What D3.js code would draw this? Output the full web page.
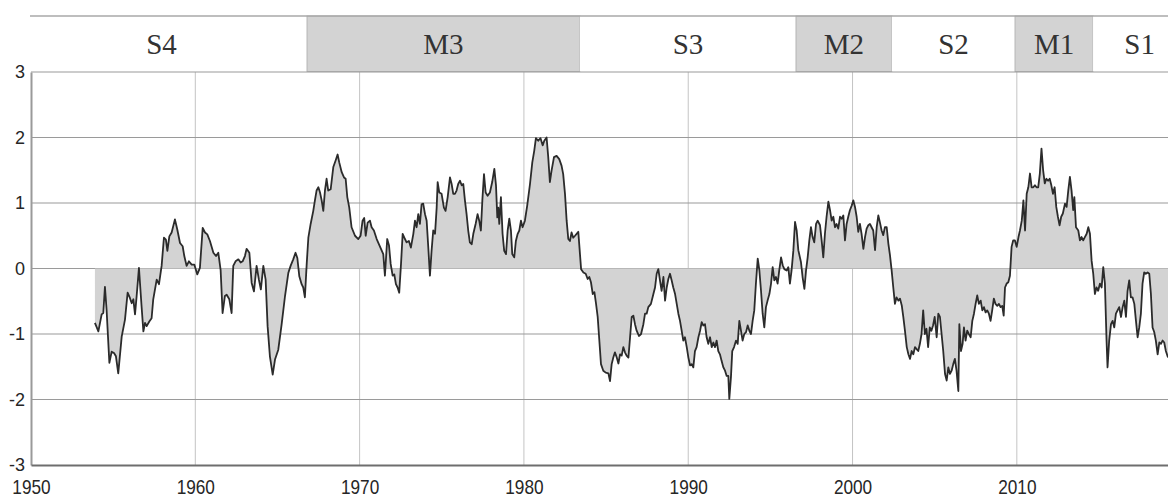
<!DOCTYPE html>
<html>
<head>
<meta charset="utf-8">
<script src="https://cdn.jsdelivr.net/npm/d3@7/dist/d3.min.js"></script>
<style>
  html, body { margin: 0; padding: 0; background: #fff; }
  svg { display: block; }
</style>
</head>
<body>
<svg id="chart" width="1168" height="497"></svg>
<script>
// Monthly index, sampled at its turning points (decimal year, value)
const years = [
  1953.89,1954.10,1954.30,1954.40,1954.50,1954.60,1954.77,1954.91,1955.05,1955.17,1955.31,1955.52,1955.72,1955.88,1956.02,1956.13,1956.23,1956.33,1956.43,1956.57,1956.73,1956.84,1956.94,1957.04,1957.20,1957.34,1957.44,1957.65,1957.79,1957.95,
  1958.09,1958.21,1958.30,1958.42,1958.56,1958.76,1958.90,1959.07,1959.23,1959.33,1959.47,1959.61,1959.78,1959.94,1960.12,1960.28,1960.45,1960.59,1960.73,1960.89,1961.10,1961.26,1961.40,1961.54,1961.66,1961.80,1961.91,1962.07,1962.21,1962.31,
  1962.45,1962.62,1962.76,1962.88,1963.02,1963.12,1963.29,1963.43,1963.57,1963.73,1963.87,1963.99,1964.14,1964.28,1964.40,1964.54,1964.71,1964.85,1965.05,1965.25,1965.46,1965.66,1965.80,1965.96,1966.10,1966.21,1966.33,1966.47,1966.57,1966.67,
  1966.78,1966.88,1967.02,1967.18,1967.28,1967.38,1967.49,1967.59,1967.69,1967.79,1967.89,1967.99,1968.09,1968.24,1968.40,1968.54,1968.66,1968.76,1968.91,1969.05,1969.15,1969.25,1969.37,1969.51,1969.72,1969.92,1970.06,1970.18,1970.28,1970.37,
  1970.49,1970.63,1970.73,1970.87,1971.04,1971.18,1971.30,1971.44,1971.54,1971.68,1971.79,1971.89,1972.01,1972.11,1972.21,1972.31,1972.41,1972.52,1972.62,1972.76,1972.86,1973.00,1973.12,1973.27,1973.37,1973.47,1973.57,1973.67,1973.77,1973.87,
  1973.98,1974.08,1974.18,1974.28,1974.38,1974.48,1974.59,1974.69,1974.75,1974.85,1974.99,1975.13,1975.23,1975.36,1975.50,1975.60,1975.70,1975.80,1975.90,1976.00,1976.11,1976.21,1976.31,1976.41,1976.51,1976.61,1976.71,1976.82,1976.92,1977.06,
  1977.18,1977.28,1977.38,1977.47,1977.57,1977.67,1977.79,1977.93,1978.07,1978.20,1978.30,1978.38,1978.44,1978.50,1978.60,1978.70,1978.80,1978.91,1979.01,1979.11,1979.21,1979.29,1979.41,1979.51,1979.62,1979.72,1979.82,1979.92,1980.06,1980.20,
  1980.37,1980.51,1980.63,1980.73,1980.87,1981.01,1981.14,1981.24,1981.38,1981.48,1981.58,1981.68,1981.83,1981.99,1982.15,1982.29,1982.39,1982.50,1982.60,1982.70,1982.80,1982.90,1983.00,1983.11,1983.31,1983.48,1983.62,1983.76,1983.88,1983.98,
  1984.08,1984.19,1984.29,1984.39,1984.49,1984.59,1984.69,1984.83,1984.98,1985.14,1985.24,1985.34,1985.44,1985.54,1985.65,1985.75,1985.85,1985.95,1986.05,1986.15,1986.25,1986.36,1986.46,1986.56,1986.66,1986.76,1986.86,1987.00,1987.13,1987.27,
  1987.37,1987.47,1987.57,1987.73,1987.88,1987.98,1988.08,1988.18,1988.28,1988.38,1988.49,1988.59,1988.69,1988.79,1988.89,1988.99,1989.09,1989.20,1989.30,1989.40,1989.50,1989.60,1989.70,1989.80,1989.91,1990.01,1990.11,1990.21,1990.31,1990.41,
  1990.51,1990.62,1990.72,1990.82,1990.92,1991.02,1991.12,1991.22,1991.33,1991.43,1991.53,1991.63,1991.73,1991.83,1991.93,1992.03,1992.14,1992.24,1992.34,1992.44,1992.50,1992.60,1992.68,1992.79,1992.91,1993.01,1993.11,1993.21,1993.31,1993.41,
  1993.52,1993.62,1993.72,1993.82,1993.92,1994.02,1994.12,1994.23,1994.33,1994.43,1994.53,1994.63,1994.73,1994.83,1994.94,1995.04,1995.14,1995.24,1995.34,1995.44,1995.54,1995.65,1995.75,1995.85,1995.99,1996.09,1996.19,1996.29,1996.40,1996.50,
  1996.60,1996.70,1996.86,1996.96,1997.07,1997.17,1997.27,1997.37,1997.47,1997.57,1997.67,1997.78,1997.88,1998.02,1998.12,1998.22,1998.32,1998.42,1998.53,1998.63,1998.73,1998.83,1998.93,1999.03,1999.13,1999.24,1999.34,1999.44,1999.54,1999.64,
  1999.74,1999.84,1999.95,2000.05,2000.15,2000.25,2000.35,2000.45,2000.55,2000.66,2000.76,2000.86,2000.96,2001.06,2001.16,2001.26,2001.37,2001.47,2001.57,2001.67,2001.77,2001.87,2001.97,2002.08,2002.18,2002.28,2002.38,2002.48,2002.58,2002.68,
  2002.79,2002.89,2003.00,2003.09,2003.19,2003.30,2003.40,2003.50,2003.60,2003.70,2003.80,2003.90,2004.00,2004.10,2004.20,2004.30,2004.40,2004.50,2004.60,2004.70,2004.80,2004.90,2005.00,2005.12,2005.22,2005.32,2005.42,2005.52,2005.63,2005.73,
  2005.83,2005.93,2006.03,2006.13,2006.23,2006.33,2006.44,2006.50,2006.60,2006.70,2006.78,2006.88,2006.98,2007.08,2007.19,2007.29,2007.39,2007.49,2007.59,2007.69,2007.80,2007.90,2008.00,2008.10,2008.20,2008.30,2008.40,2008.50,2008.60,2008.70,
  2008.81,2008.91,2009.01,2009.11,2009.20,2009.28,2009.38,2009.48,2009.58,2009.68,2009.78,2009.88,2009.99,2010.10,2010.19,2010.30,2010.40,2010.50,2010.60,2010.70,2010.80,2010.90,2011.00,2011.10,2011.20,2011.30,2011.40,2011.50,2011.60,2011.70,
  2011.80,2011.90,2012.00,2012.10,2012.20,2012.30,2012.40,2012.50,2012.60,2012.70,2012.80,2012.93,2013.03,2013.13,2013.23,2013.33,2013.43,2013.50,2013.60,2013.74,2013.84,2013.94,2014.04,2014.14,2014.25,2014.35,2014.45,2014.55,2014.65,2014.75,
  2014.85,2014.95,2015.06,2015.16,2015.26,2015.36,2015.46,2015.52,2015.62,2015.73,2015.83,2015.93,2016.03,2016.13,2016.23,2016.34,2016.44,2016.54,2016.64,2016.74,2016.84,2016.94,2017.04,2017.15,2017.25,2017.35,2017.45,2017.55,2017.65,2017.75,
  2017.85,2017.96,2018.06,2018.16,2018.26,2018.36,2018.46,2018.57,2018.67,2018.77,2018.87,2018.97,2019.07,2019.20
];
const values = [
  -0.83,-0.96,-0.70,-0.68,-0.28,-0.63,-1.44,-1.27,-1.29,-1.34,-1.60,-1.04,-0.78,-0.37,-0.45,-0.53,-0.47,-0.70,-0.42,0.01,-0.58,-0.96,-0.83,-0.88,-0.81,-0.76,-0.47,-0.17,-0.24,0.04,
  0.47,0.44,0.27,0.49,0.55,0.75,0.60,0.39,0.34,0.19,0.04,0.11,0.06,0.06,-0.09,0.01,0.62,0.55,0.52,0.42,0.24,0.19,0.24,-0.02,-0.68,-0.42,-0.40,-0.47,-0.68,0.04,
  0.11,0.14,0.09,0.11,0.19,0.30,0.24,-0.22,-0.35,0.04,-0.17,-0.32,0.04,-0.17,-0.88,-1.34,-1.62,-1.39,-1.24,-0.86,-0.42,-0.07,0.04,0.14,0.24,0.16,-0.12,-0.24,-0.29,-0.44,
  0.07,0.47,0.68,0.88,1.04,1.19,1.24,1.16,1.04,0.88,1.19,1.37,1.19,1.21,1.55,1.65,1.74,1.62,1.47,1.39,1.37,1.09,0.93,0.63,0.50,0.45,0.50,0.73,0.77,0.50,
  0.70,0.73,0.63,0.58,0.45,0.37,0.30,0.22,-0.11,0.45,0.35,0.07,-0.11,-0.09,-0.24,-0.29,-0.37,0.07,0.53,0.45,0.40,0.42,0.32,0.53,0.73,0.63,0.83,0.68,0.98,0.99,
  0.83,0.73,0.32,-0.11,0.27,0.58,0.53,0.93,1.32,1.16,1.14,0.93,0.88,1.09,1.39,1.29,1.14,1.14,1.19,1.29,1.34,1.27,1.29,1.04,0.83,0.58,0.40,0.37,0.53,0.68,
  0.83,0.73,0.58,1.04,1.44,1.16,1.11,1.16,1.32,1.52,1.27,0.78,0.93,0.68,1.09,0.53,0.27,0.22,0.58,0.76,0.58,0.22,0.17,0.42,0.53,0.58,0.73,0.63,0.73,0.96,
  1.29,1.62,1.80,1.99,1.95,1.99,1.88,1.95,2.00,1.70,1.32,1.49,1.70,1.72,1.67,1.57,1.44,1.14,0.73,0.45,0.42,0.55,0.47,0.50,0.56,-0.01,-0.06,-0.08,-0.16,-0.13,
  -0.21,-0.39,-0.36,-0.54,-0.74,-1.10,-1.46,-1.56,-1.59,-1.60,-1.72,-1.46,-1.36,-1.28,-1.36,-1.45,-1.31,-1.33,-1.20,-1.28,-1.33,-1.36,-1.05,-0.74,-0.72,-0.85,-0.95,-1.03,-1.00,-0.85,
  -0.69,-0.69,-0.59,-0.54,-0.39,-0.29,-0.08,-0.01,-0.18,-0.34,-0.13,-0.49,-0.29,-0.16,-0.08,-0.18,-0.29,-0.39,-0.54,-0.69,-0.80,-0.95,-1.10,-1.05,-1.20,-1.36,-1.48,-1.46,-1.51,-1.26,
  -1.20,-1.05,-0.95,-0.82,-0.87,-0.85,-1.05,-1.15,-1.05,-1.20,-1.13,-1.20,-1.10,-1.26,-1.31,-1.41,-1.51,-1.56,-1.64,-1.64,-1.99,-1.66,-1.26,-1.20,-1.10,-1.15,-0.80,-0.95,-1.10,-1.00,
  -0.97,-0.87,-0.95,-1.00,-0.80,-0.64,-0.23,0.15,-0.03,-0.34,-0.69,-0.90,-0.59,-0.49,-0.39,-0.23,0.02,-0.18,-0.13,-0.23,-0.03,0.17,0.05,-0.01,-0.03,0.02,-0.23,-0.03,0.28,0.71,
  0.58,0.28,0.10,-0.13,-0.31,-0.03,0.17,0.43,0.63,0.48,0.40,0.68,0.73,0.66,0.43,0.17,0.53,0.79,1.02,0.89,0.73,0.79,0.63,0.68,0.61,0.79,0.76,0.81,0.43,0.68,
  0.79,0.89,0.96,1.04,0.94,0.79,0.56,0.68,0.53,0.30,0.48,0.61,0.66,0.68,0.63,0.58,0.28,0.63,0.81,0.70,0.58,0.51,0.63,0.63,0.38,0.20,-0.03,-0.29,-0.54,-0.44,
  -0.49,-0.46,-0.57,-0.74,-0.95,-1.20,-1.31,-1.38,-1.26,-1.31,-1.20,-1.23,-1.26,-1.15,-1.00,-0.64,-1.00,-0.92,-1.20,-0.90,-0.95,-0.87,-0.74,-1.05,-0.69,-0.74,-1.00,-1.26,-1.61,-1.71,
  -1.51,-1.61,-1.56,-1.46,-1.38,-1.56,-1.87,-0.85,-1.26,-1.15,-0.90,-1.10,-0.95,-1.00,-1.05,-0.80,-0.69,-0.54,-0.41,-0.54,-0.49,-0.64,-0.59,-0.67,-0.64,-0.69,-0.80,-0.64,-0.46,-0.54,
  -0.57,-0.54,-0.59,-0.57,-0.72,-0.29,-0.23,-0.21,-0.11,0.33,0.43,0.43,0.33,0.48,0.58,0.73,1.04,0.58,1.14,1.24,1.45,1.24,1.24,1.27,1.24,1.24,1.45,1.83,1.50,1.30,
  1.37,1.34,1.37,1.27,1.14,1.24,0.94,0.79,0.66,0.79,0.84,0.99,0.94,1.19,1.40,1.19,0.89,1.09,0.63,0.58,0.43,0.48,0.43,0.48,0.53,0.63,0.53,0.12,-0.08,-0.39,
  -0.29,-0.34,-0.23,-0.29,0.02,-0.23,-1.10,-1.51,-1.10,-0.85,-0.80,-0.90,-0.69,-0.64,-0.59,-0.74,-0.59,-0.49,-0.74,-0.34,-0.18,-0.44,-0.44,-0.54,-0.80,-1.05,-0.90,-0.69,-0.23,-0.06,
  -0.08,-0.06,-0.08,-0.39,-0.90,-0.97,-1.10,-1.31,-1.13,-1.15,-1.10,-1.13,-1.26,-1.36
];

// Regime bands across the top (start year, end year, label, shaded?)
const bandStarts = [1949.09, 1966.80, 1983.41, 1996.56, 2002.40, 2009.89, 2014.64];
const bandEnds   = [1966.80, 1983.41, 1996.56, 2002.40, 2009.89, 2014.64, 2020.30];
const bandLabels = ["S4", "M3", "S3", "M2", "S2", "M1", "S1"];
const bandShaded = [false, true, false, true, false, true, false];

const yTicks = [-3, -2, -1, 0, 1, 2, 3];
const xTicks = [1950, 1960, 1970, 1980, 1990, 2000, 2010];

const plot = { left: 31, right: 1168, top: 72, bottom: 465 };
const band = { top: 16, bottom: 71.5 };

const x = d3.scaleLinear().domain([1950, 2019.2]).range([plot.left, plot.right]);
const y = d3.scaleLinear().domain([-3, 3]).range([plot.bottom, plot.top]);

const svg = d3.select("#chart");
const data = years.map((t, i) => ({ t, v: values[i] }));

const defs = svg.append("defs");
defs.append("clipPath").attr("id", "plotClip")
  .append("rect")
  .attr("x", plot.left).attr("y", plot.top - 1)
  .attr("width", plot.right - plot.left).attr("height", plot.bottom - plot.top + 2);
defs.append("clipPath").attr("id", "bandClip")
  .append("rect")
  .attr("x", plot.left - 1).attr("y", 0)
  .attr("width", plot.right - plot.left + 1).attr("height", plot.top);

// Top band of regimes
const bands = bandLabels.map((lab, i) => ({
  lab, a: bandStarts[i], b: bandEnds[i], shaded: bandShaded[i]
}));
const bandG = svg.append("g").attr("clip-path", "url(#bandClip)");
bandG.selectAll("rect.cell").data(bands).join("rect")
  .attr("class", "cell")
  .attr("x", d => x(d.a))
  .attr("y", band.top)
  .attr("width", d => x(d.b) - x(d.a))
  .attr("height", band.bottom - band.top)
  .attr("fill", d => d.shaded ? "#d3d3d3" : "#ffffff")
  .attr("stroke", d => d.shaded ? "#b5b5b5" : "none")
  .attr("stroke-width", 1);
svg.append("line")
  .attr("x1", plot.left - 1).attr("x2", plot.right)
  .attr("y1", band.top).attr("y2", band.top)
  .attr("stroke", "#a8a8a8").attr("stroke-width", 1.5);
svg.selectAll("text.band").data(bands).join("text")
  .attr("class", "band")
  .attr("x", d => x((d.a + d.b) / 2))
  .attr("y", (band.top + band.bottom) / 2)
  .attr("dy", "0.35em")
  .attr("text-anchor", "middle")
  .attr("font-family", "'Liberation Serif', 'DejaVu Serif', serif")
  .attr("font-size", 29)
  .attr("fill", "#333")
  .text(d => d.lab);

// Grid
svg.append("g").selectAll("line").data(xTicks.filter(t => t > 1950)).join("line")
  .attr("x1", d => x(d)).attr("x2", d => x(d))
  .attr("y1", plot.top).attr("y2", plot.bottom)
  .attr("stroke", "#c4c4c4").attr("stroke-width", 1);
svg.append("g").selectAll("line").data(yTicks.filter(t => t > -3)).join("line")
  .attr("x1", plot.left).attr("x2", plot.right)
  .attr("y1", d => y(d)).attr("y2", d => y(d))
  .attr("stroke", "#9a9a9a").attr("stroke-width", 1.2);

// Area between zero and the series, then the series line
const area = d3.area().x(d => x(d.t)).y0(y(0)).y1(d => y(d.v));
const line = d3.line().x(d => x(d.t)).y(d => y(d.v));
const plotG = svg.append("g").attr("clip-path", "url(#plotClip)");
plotG.append("path").datum(data)
  .attr("d", area)
  .attr("fill", "#d3d3d3");
plotG.append("path").datum(data)
  .attr("d", line)
  .attr("fill", "none")
  .attr("stroke", "#2b2b2b")
  .attr("stroke-width", 1.8)
  .attr("stroke-linejoin", "round");

// Axes (plain hyphen for negatives)
const plainInt = d => String(d);
const yAxis = d3.axisLeft(y).tickValues(yTicks).tickSize(0).tickPadding(6).tickFormat(plainInt);
const gy = svg.append("g").attr("transform", `translate(${plot.left},0)`).call(yAxis);
gy.select(".domain").attr("stroke", "#9a9a9a").attr("stroke-width", 2);
gy.selectAll("text")
  .attr("font-family", "'Liberation Sans', Arial, sans-serif")
  .attr("font-size", 18)
  .attr("fill", "#262626");

const xAxis = d3.axisBottom(x).tickValues(xTicks).tickSize(0).tickPadding(0).tickFormat(plainInt);
const gx = svg.append("g").attr("transform", `translate(0,${plot.bottom})`).call(xAxis);
gx.select(".domain").attr("stroke", "#6e6e6e").attr("stroke-width", 2);
// narrow, tall year labels
gx.selectAll(".tick text")
  .attr("font-family", "'Liberation Sans', Arial, sans-serif")
  .attr("font-size", 21)
  .attr("fill", "#262626")
  .attr("dy", null)
  .attr("y", null)
  .attr("transform", "translate(0,29) scale(0.82,1)");
</script>
</body>
</html>
